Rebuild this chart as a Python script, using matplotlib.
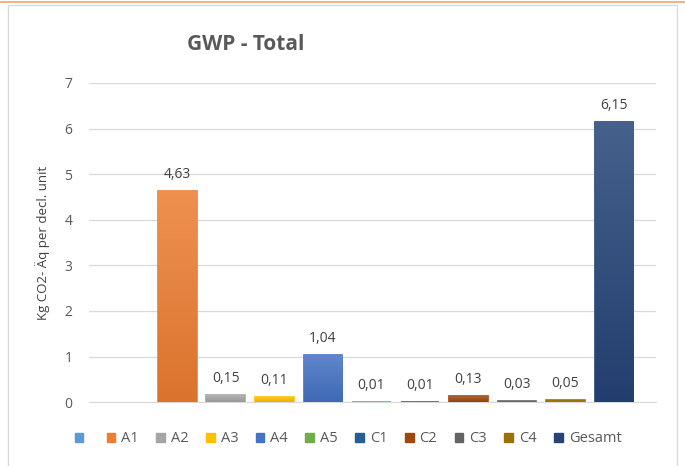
import numpy as np
import matplotlib.pyplot as plt
import matplotlib.colors as mcolors
from matplotlib.patches import Rectangle
from matplotlib.lines import Line2D

plt.rcParams['font.family'] = ['Open Sans', 'DejaVu Sans']

categories = ['', 'A1', 'A2', 'A3', 'A4', 'A5', 'C1', 'C2', 'C3', 'C4', 'Gesamt']
values = [0.0, 4.63, 0.15, 0.11, 1.04, 0.01, 0.01, 0.13, 0.03, 0.05, 6.15]
labels = ['', '4,63', '0,15', '0,11', '1,04', '0,01', '0,01', '0,13', '0,03', '0,05', '6,15']
colors = ['#5B9BD5', '#ED7D31', '#A5A5A5', '#FFC000', '#4472C4', '#70AD47',
          '#255E91', '#9E480E', '#636363', '#997300', '#264478']

fig = plt.figure(figsize=(6.85, 4.66), dpi=100)
ax = fig.add_axes([0.130, 0.137, 0.828, 0.685])

x = np.arange(len(categories))
edge = [c if v > 0 else 'none' for c, v in zip(colors, values)]
bars = ax.bar(x, values, width=0.8, color=colors, edgecolor=edge, linewidth=1.2, zorder=2)

# lighter-top gradient fill like the Excel chart
for b, c in zip(bars, colors):
    h = b.get_height()
    if h <= 0.05:
        continue
    rgb = np.array(mcolors.to_rgb(c))
    top = rgb + (1 - rgb) * 0.15
    bot = rgb * 0.92
    t = np.linspace(0, 1, 64)[:, None]
    grad = (top * (1 - t) + bot * t)[:, None, :]
    im = ax.imshow(grad, extent=[b.get_x(), b.get_x() + b.get_width(), 0, h],
                   aspect='auto', zorder=3, interpolation='bilinear')
    im.set_clip_path(b)

for xi, v, lab in zip(x, values, labels):
    if lab:
        ax.text(xi, v + 0.2, lab, ha='center', va='bottom', fontsize=10, color='#404040')

ax.set_xlim(-0.82, 10.87)
ax.set_ylim(0, 7)
ax.set_yticks(range(0, 8))
ax.set_xticks([])
ax.yaxis.grid(True, color='#D9D9D9', linewidth=0.9, zorder=0)
ax.set_axisbelow(True)
for s in ['top', 'right', 'left']:
    ax.spines[s].set_visible(False)
ax.spines['bottom'].set_color('#D9D9D9')
ax.tick_params(axis='y', length=0, labelsize=10, labelcolor='#595959', pad=12)
ax.set_ylabel('Kg CO2- Äq per decl. unit', fontsize=9.5, color='#404040', labelpad=10)

fig.text(0.358, 0.905, 'GWP - Total', ha='center', va='center', fontsize=15,
         fontweight='bold', color='#595959')

handles = [Rectangle((0, 0), 1, 1, color=c) for c in colors]
fig.legend(handles, categories, loc='center', bbox_to_anchor=(0.508, 0.058), ncol=11,
           frameon=False, fontsize=10.5, handlelength=0.6, handleheight=0.6,
           handletextpad=0.4, columnspacing=1.2, labelcolor='#595959')

# chart frame and top accent line
fig.add_artist(Rectangle((8 / 685, -0.01), 669 / 685, 1 - 5 / 466 + 0.01,
                         transform=fig.transFigure, fill=False, edgecolor='#D9D9D9', lw=1))
fig.add_artist(Line2D([0, 1], [1 - 2 / 466, 1 - 2 / 466], transform=fig.transFigure,
                      color='#ED7D31', lw=1.2, alpha=0.7))

fig.savefig('out.png', dpi=100)
